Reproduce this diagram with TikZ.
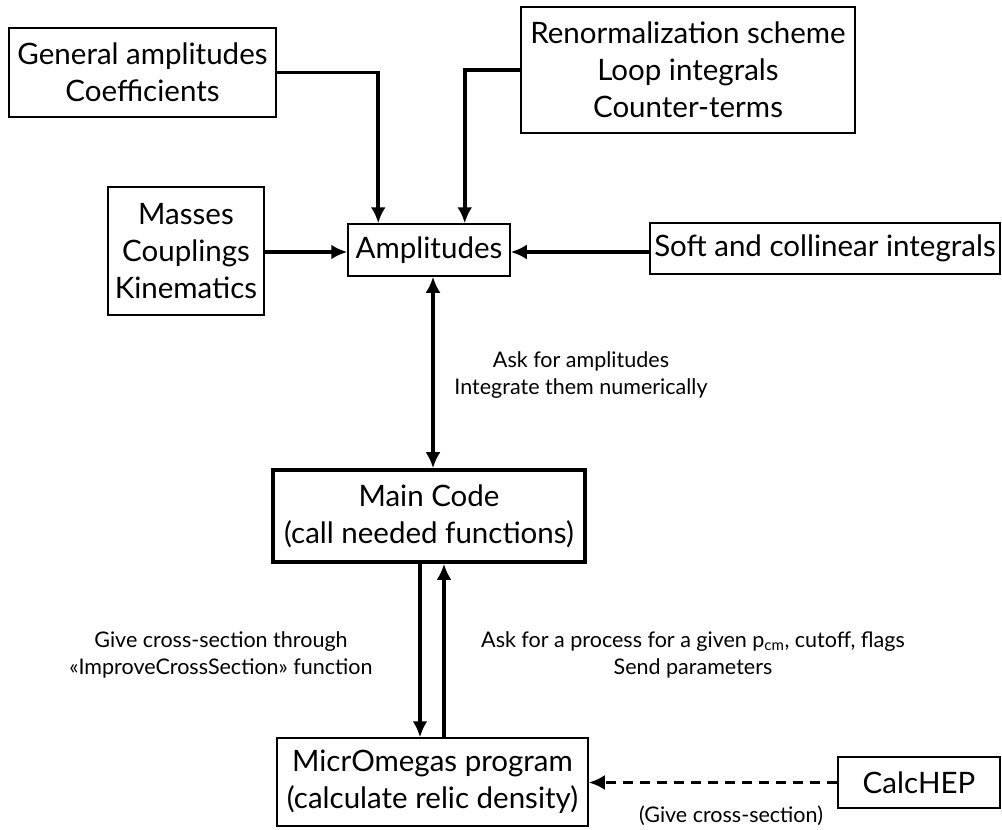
\documentclass[tikz,border=0pt]{standalone}
\usepackage{fontspec}
\setmainfont{Lato}
\usetikzlibrary{arrows.meta,calc}
\tikzset{
  box/.style={draw, line width=1.5pt, inner sep=0pt, align=center,
    font=\fontsize{29.5}{37}\selectfont},
  mainbox/.style={box, line width=3.6pt},
  lbl/.style={align=center, inner sep=0pt, font=\fontsize{21.5}{26.5}\selectfont},
  arr/.style={line width=3.6pt, -{Latex[length=16pt,width=15pt]}},
  darr/.style={arr, {Latex[length=16pt,width=15pt]}-{Latex[length=16pt,width=15pt]}},
  dasharr/.style={arr, dash pattern=on 10pt off 7pt}
}
\begin{document}
\begin{tikzpicture}[x=1pt,y=-1pt]
\useasboundingbox (0,0) rectangle (1002,830);
\node[box, minimum width=267pt, minimum height=89pt] (gen) at (142.5,72.5) {General amplitudes\\Coefficients};
\node[box, minimum width=334pt, minimum height=126pt] (ren) at (688,70) {Renormalization scheme\\Loop integrals\\Counter-terms};
\node[box, minimum width=156pt, minimum height=128pt] (mass) at (186,251) {Masses\\Couplings\\Kinematics};
\node[box, minimum width=162pt, minimum height=52pt] (amp) at (429,250) {Amplitudes};
\node[box, minimum width=350pt, minimum height=51pt] (soft) at (825,248.5) {Soft and collinear integrals};
\node[mainbox, minimum width=312pt, minimum height=92pt] (main) at (429,516) {Main Code\\(call needed functions)};
\node[box, minimum width=311pt, minimum height=88pt] (mic) at (432.5,782) {MicrOmegas program\\(calculate relic density)};
\node[box, minimum width=162pt, minimum height=51pt] (calc) at (919,782.5) {CalcHEP};

\node[lbl] (l1) at (581,375) {Ask for amplitudes\\Integrate them numerically};
\node[lbl] (l2) at (221,655) {Give cross-section through\\«ImproveCrossSection» function};
\node[lbl] (l3) at (693,655) {Ask for a process for a given p\textsubscript{cm}, cutoff, flags\\Send parameters};
\node[lbl] (l4) at (731,816) {(Give cross-section)};

\draw[arr] (gen.east) -| ([xshift=31pt]amp.north west);
\draw[arr] (ren.west) -| ([xshift=-46pt]amp.north east);
\draw[arr] (mass.east |- 0,252) -- (amp.west |- 0,252);
\draw[arr] (soft.west |- 0,252) -- (amp.east |- 0,252);
\draw[darr] ([xshift=4pt]amp.south) -- ([xshift=4pt]main.north);
\draw[arr] ([xshift=-9pt]main.south) -- ([xshift=-9pt]main.south |- mic.north);
\draw[arr] ([xshift=15pt]main.south |- mic.north) -- ([xshift=15pt]main.south);
\draw[dasharr] (calc.west) -- (calc.west -| mic.east);
\end{tikzpicture}
\end{document}
